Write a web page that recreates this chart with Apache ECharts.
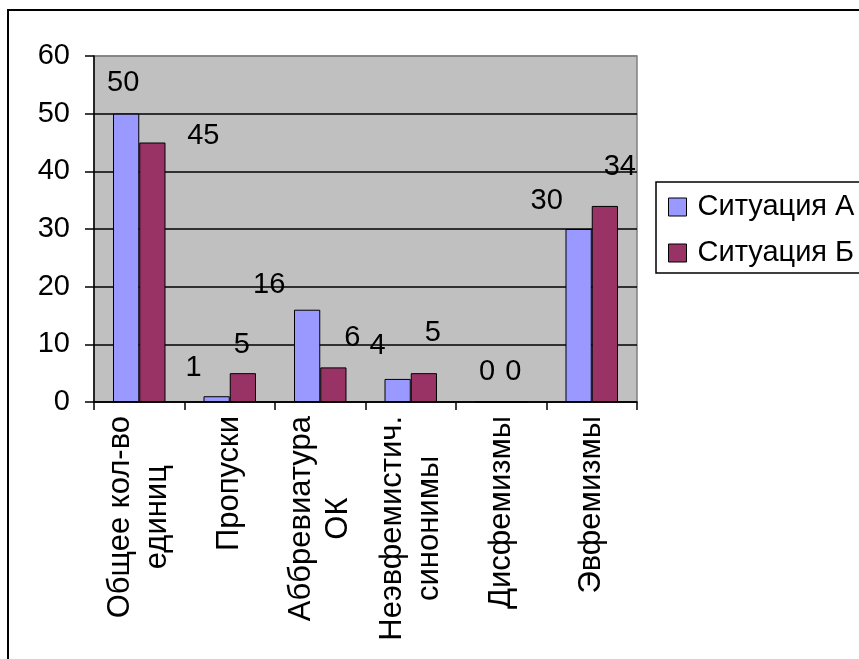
<!DOCTYPE html>
<html>
<head>
<meta charset="utf-8">
<script src="https://cdn.jsdelivr.net/npm/echarts@6/dist/echarts.min.js"></script>
<style>
  html, body { margin: 0; padding: 0; background: #fff; }
  #chart { width: 859px; height: 659px; }
</style>
</head>
<body>
<div id="chart"></div>
<script>
// Categories (two-line names are split with \n)
const categories = [
  'Общее кол-во\nединиц',
  'Пропуски',
  'Аббревиатура\nОК',
  'Неэвфемистич.\nсинонимы',
  'Дисфемизмы',
  'Эвфемизмы'
];
const seriesNames = ['Ситуация А', 'Ситуация Б'];
const situationA = [50, 1, 16, 4, 0, 30];
const situationB = [45, 5, 6, 5, 0, 34];
const yMin = 0, yMax = 60, yStep = 10;

// Small per-label nudges (px) for the value labels
const nudgeA = [[-3, 0], [-23, 2], [-38, 6], [-20, -2], [-1, 1], [-32, 2]];
const nudgeB = [[51, 24], [-1, 2], [19, 1], [9, -10], [-1, 1], [15, -8]];

const FONT = "'Liberation Sans', Arial, sans-serif";
const FS = 29;      // value, tick and legend text
const CAT_FS = 31;  // rotated category names

function withLabels(values, nudges) {
  return values.map((v, i) => ({ value: v, label: { offset: nudges[i] } }));
}

const chart = echarts.init(document.getElementById('chart'), null, { renderer: 'canvas' });

chart.setOption({
  animation: false,
  backgroundColor: '#ffffff',
  textStyle: { fontFamily: FONT, color: '#000' },
  grid: {
    left: 94, top: 56, width: 543, height: 346,
    show: true, backgroundColor: '#c0c0c0',
    borderColor: '#808080', borderWidth: 1.5
  },
  legend: {
    orient: 'vertical',
    left: 668, top: 191,
    padding: 0,
    itemWidth: 18, itemHeight: 18, itemGap: 14,
    icon: 'rect',
    itemStyle: { borderColor: '#000', borderWidth: 1 },
    textStyle: { fontFamily: FONT, fontSize: FS, lineHeight: 32, color: '#000', padding: [0, 0, 0, 6] },
    data: seriesNames
  },
  xAxis: {
    type: 'category',
    data: categories,
    axisLine: { show: true, lineStyle: { color: '#000', width: 1.5 } },
    axisTick: { show: true, length: 8, lineStyle: { color: '#000', width: 1.5 } },
    axisLabel: {
      interval: 0,
      rotate: 90,
      margin: 14,
      fontFamily: FONT,
      fontSize: CAT_FS,
      lineHeight: 37,
      color: '#000',
      formatter: v => v.split('\n').map(s => '{c|' + s + '}').join('\n'),
      rich: { c: { align: 'center', fontFamily: FONT, fontSize: CAT_FS, lineHeight: 37, color: '#000' } }
    }
  },
  yAxis: {
    type: 'value',
    min: yMin, max: yMax, interval: yStep,
    axisLine: { show: true, lineStyle: { color: '#000', width: 1.5 } },
    axisTick: { show: true, length: 9, lineStyle: { color: '#000', width: 1.5 } },
    axisLabel: { margin: 24, fontFamily: FONT, fontSize: FS, color: '#000' },
    splitLine: {
      show: true,
      lineStyle: { color: ['#000', '#000', '#000', '#000', '#000', '#000', '#808080'], width: 1.5 }
    }
  },
  series: [
    {
      name: seriesNames[0], type: 'bar',
      data: withLabels(situationA, nudgeA),
      barGap: '0%', barCategoryGap: '42%',
      itemStyle: { color: '#9999ff', borderColor: '#000', borderWidth: 1 },
      label: { show: true, position: 'top', distance: 16, fontFamily: FONT, fontSize: FS, color: '#000' }
    },
    {
      name: seriesNames[1], type: 'bar',
      data: withLabels(situationB, nudgeB),
      barGap: '0%', barCategoryGap: '42%',
      itemStyle: { color: '#993366', borderColor: '#000', borderWidth: 1 },
      label: { show: true, position: 'top', distance: 16, fontFamily: FONT, fontSize: FS, color: '#000' }
    }
  ],
  graphic: [
    {
      type: 'rect', silent: true, z: 100,
      shape: { x: 8, y: 10, width: 900, height: 700 },
      style: { fill: 'none', stroke: '#000', lineWidth: 2 }
    },
    {
      type: 'rect', silent: true, z: 100,
      shape: { x: 656, y: 182, width: 260, height: 91 },
      style: { fill: 'none', stroke: '#000', lineWidth: 1.5 }
    }
  ]
});
</script>
</body>
</html>
